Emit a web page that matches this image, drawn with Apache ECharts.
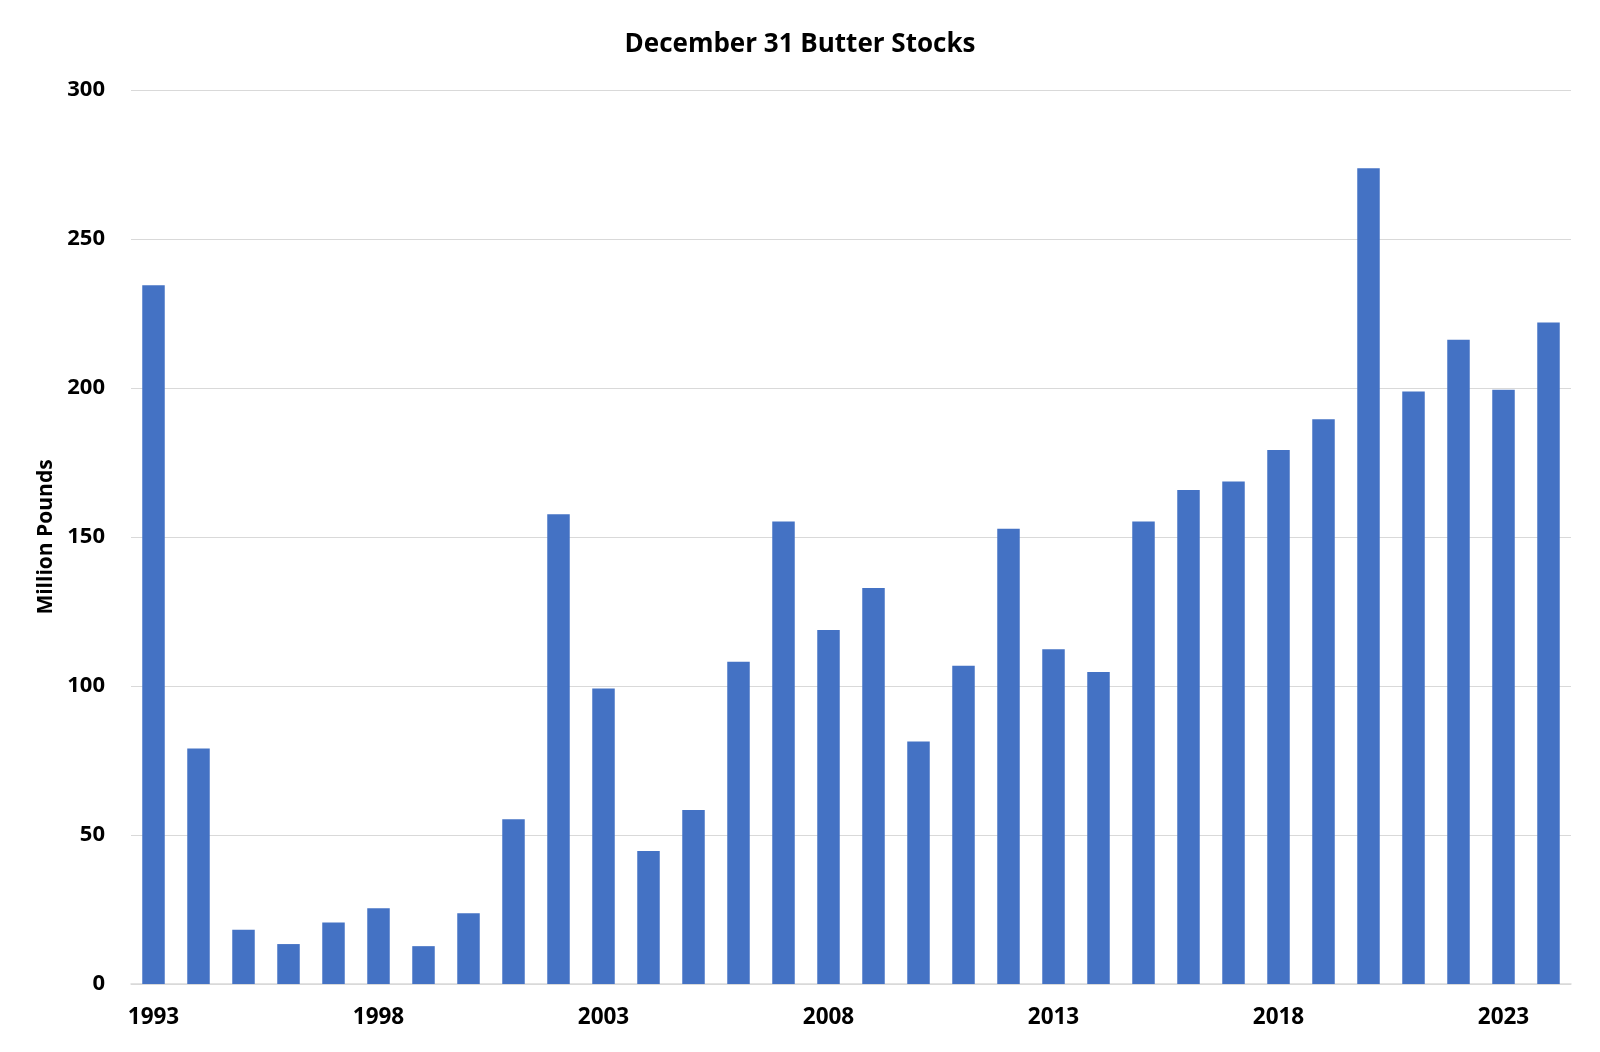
<!DOCTYPE html>
<html>
<head>
<meta charset="utf-8">
<script src="https://cdn.jsdelivr.net/npm/echarts@6/dist/echarts.min.js"></script>
<style>
html,body{margin:0;padding:0;background:#fff;}
#chart{width:1600px;height:1052px;}
</style>
</head>
<body>
<div id="chart"></div>
<script>
const years = ["1993","1994","1995","1996","1997","1998","1999","2000","2001","2002","2003","2004","2005","2006","2007","2008","2009","2010","2011","2012","2013","2014","2015","2016","2017","2018","2019","2020","2021","2022","2023","2024"];
const stocks = [234.5,79.0,18.2,13.4,20.6,25.4,12.7,23.7,55.3,157.6,99.2,44.6,58.4,108.1,155.2,118.8,132.9,81.4,106.8,152.8,112.3,104.7,155.2,165.8,168.6,179.2,189.5,273.7,198.8,216.2,199.4,222.0];
const yTicks = [0,50,100,150,200,250,300];

const FONT = '"Open Sans", "Liberation Sans", sans-serif';
const chart = echarts.init(document.getElementById('chart'));
chart.setOption({
  animation: false,
  backgroundColor: '#ffffff',
  title: {
    text: 'December 31 Butter Stocks',
    left: 'center',
    top: 27,
    textStyle: {fontFamily: FONT, fontWeight: 'bold', fontSize: 26, color: '#000'}
  },
  grid: {left: 131, right: 29, top: 90, bottom: 68},
  xAxis: {
    type: 'category',
    data: years,
    boundaryGap: true,
    axisLine: {show: true, lineStyle: {color: '#d9d9d9', width: 1.5}},
    axisTick: {show: false},
    axisLabel: {interval: 4, margin: 22, fontFamily: FONT, fontWeight: 'bold', fontSize: 22.5, color: '#000'}
  },
  yAxis: {
    type: 'value',
    min: yTicks[0],
    max: yTicks[yTicks.length-1],
    interval: 50,
    name: 'Million Pounds',
    nameLocation: 'middle',
    nameGap: 73,
    nameRotate: 90,
    nameTextStyle: {fontFamily: FONT, fontWeight: 'bold', fontSize: 21, color: '#000'},
    axisLine: {show: false},
    axisTick: {show: false},
    splitLine: {lineStyle: {color: '#d9d9d9', width: 1.2}},
    axisLabel: {margin: 26, fontFamily: FONT, fontWeight: 'bold', fontSize: 22, color: '#000'}
  },
  series: [{
    type: 'bar',
    data: stocks,
    barWidth: '50%',
    itemStyle: {color: '#4472c4'}
  }]
});
</script>
</body>
</html>
